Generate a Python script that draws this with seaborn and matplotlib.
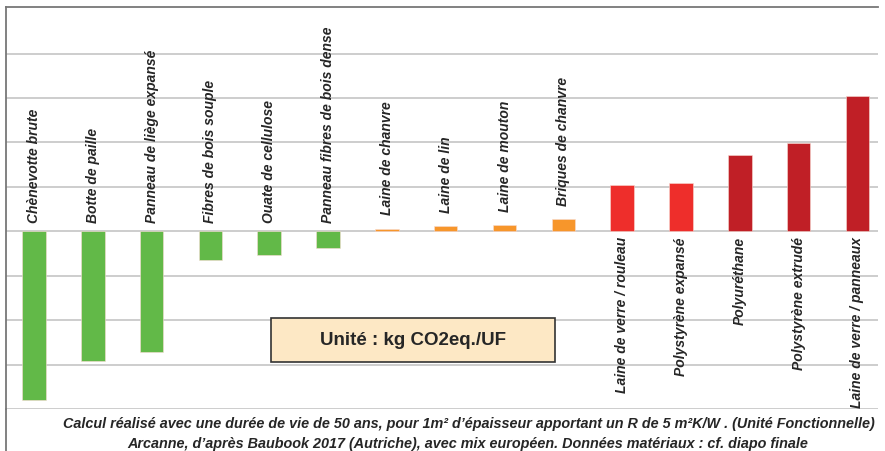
import matplotlib.pyplot as plt
import matplotlib.lines as mlines
import matplotlib.patches as mpatches
import pandas as pd
import seaborn as sns

materials = [
    "Chènevotte brute", "Botte de paille", "Panneau de liège expansé",
    "Fibres de bois souple", "Ouate de cellulose", "Panneau fibres de bois dense",
    "Laine de chanvre", "Laine de lin", "Laine de mouton", "Briques de chanvre",
    "Laine de verre / rouleau", "Polystyrène expansé", "Polyuréthane",
    "Polystyrène extrudé", "Laine de verre / panneaux",
]
# kg CO2eq./UF (one gridline = 1 unit)
co2 = [-3.79, -2.93, -2.71, -0.65, -0.54, -0.38,
       0.06, 0.11, 0.14, 0.27,
       1.04, 1.08, 1.72, 1.99, 3.05]
colors = ["#62B948"] * 6 + ["#F7962B"] * 4 + ["#EE2E2B"] * 2 + ["#C01F26"] * 3
label_below = [False] * 10 + [True] * 5

df = pd.DataFrame({"Matériau": materials, "CO2": co2})

sns.set_style("white")
plt.rcParams["font.family"] = ["Liberation Sans", "DejaVu Sans"]

fig = plt.figure(figsize=(8.85, 4.52), dpi=100)
ax = fig.add_axes([6 / 885, 42 / 452, 872 / 885, 402 / 452])

sns.barplot(data=df, x="Matériau", y="CO2", hue="Matériau", palette=colors,
            legend=False, width=0.4, saturation=1, edgecolor="#f8dcd4",
            linewidth=0.4, ax=ax, zorder=3)

ax.set_xlim(-0.476, 14.35)
ax.set_ylim(-4, 5.05)
ax.set_yticks(range(-4, 5))
ax.yaxis.grid(True, color="#c9c9c9", linewidth=1.3, zorder=0)
ax.tick_params(left=False, bottom=False, labelleft=False, labelbottom=False)
ax.set_xlabel("")
ax.set_ylabel("")
for side in ["right", "bottom"]:
    ax.spines[side].set_visible(False)
ax.spines["top"].set_color("#777777")
ax.spines["top"].set_linewidth(1.3)
ax.spines["left"].set_color("#777777")
ax.spines["left"].set_linewidth(1.3)
fig.add_artist(mlines.Line2D([6 / 885, 6 / 885], [0, 42 / 452],
                             color="#777777", linewidth=1.3))

# category labels: above the bar (or zero line), below zero for the red ones
for i, (name, v, below) in enumerate(zip(materials, co2, label_below)):
    if below:
        ax.text(i, -0.11, name, rotation=90, ha="center", va="top",
                fontsize=10, fontweight="bold", fontstyle="italic")
    else:
        ax.text(i, max(v, 0) + 0.2 + (0.12 if v > 0 else 0), name,
                rotation=90, ha="center", va="bottom",
                fontsize=10, fontweight="bold", fontstyle="italic")

fig.add_artist(mpatches.Rectangle((271 / 885, 1 - 363 / 452), 284 / 885, 44 / 452,
                                  transform=fig.transFigure, facecolor="#FDE8C5",
                                  edgecolor="#333333", linewidth=1.2, zorder=5))
fig.text(413 / 885, 1 - 341 / 452, "Unité : kg CO2eq./UF", ha="center",
         va="center", fontsize=13.5, fontweight="bold", zorder=6)

fig.text(469 / 885, 1 - 424 / 452,
         "Calcul réalisé avec une durée de vie de 50 ans, pour 1m² d’épaisseur "
         "apportant un R de 5 m²K/W . (Unité Fonctionnelle)",
         ha="center", va="center", fontsize=10.4, fontweight="bold", fontstyle="italic")
fig.text(468 / 885, 1 - 444 / 452,
         "Arcanne, d’après Baubook 2017 (Autriche), avec mix européen. "
         "Données matériaux : cf. diapo finale",
         ha="center", va="center", fontsize=10.4, fontweight="bold", fontstyle="italic")

fig.savefig("out.png", dpi=100)
